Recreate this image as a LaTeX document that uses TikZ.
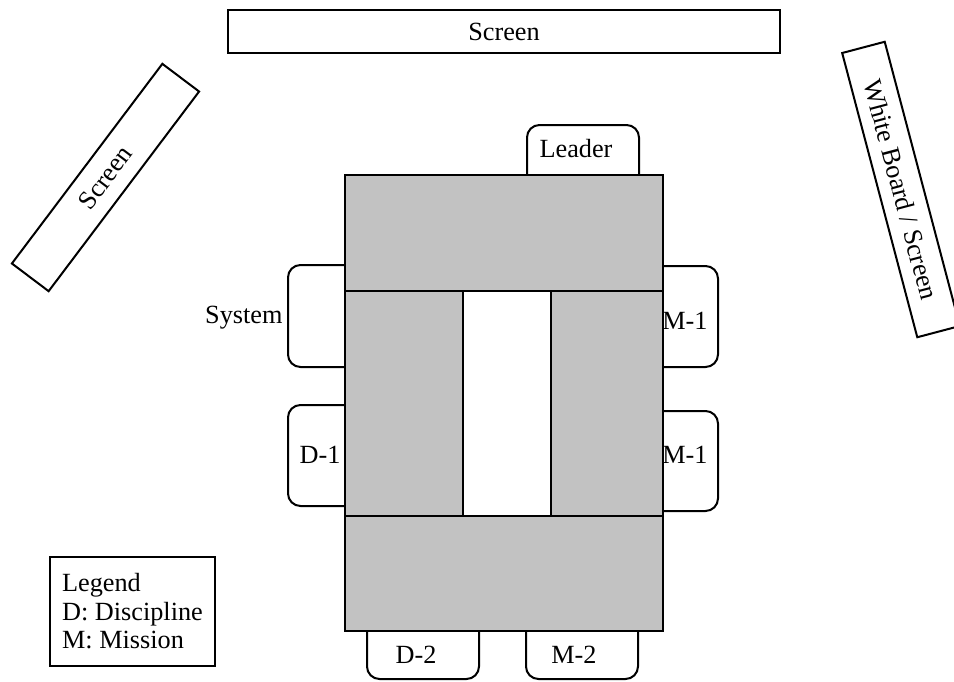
\documentclass[tikz,border=0pt]{standalone}
\usepackage{fontspec}
\setmainfont{Liberation Serif}
\usepackage{tikz}
\usetikzlibrary{positioning}

\tikzset{
  chair/.style={draw,line width=0.8pt,rounded corners=5pt,fill=white},
  tbl/.style={draw,line width=0.8pt,fill=black!24},
  screenbox/.style={draw,line width=0.8pt,fill=white,inner sep=0pt},
  lbl/.style={inner sep=1pt}
}

\begin{document}
\begin{tikzpicture}[x=0.4pt,y=-0.4pt,font=\fontsize{10.5}{11.4}\selectfont]
\useasboundingbox[fill=white](0,0)rectangle(954,681);
% screens
\node[screenbox,minimum width=221pt,minimum height=17.2pt](topscreen)at(504,31.5){Screen};
\node[screenbox,rotate=53,minimum width=100pt,minimum height=18.4pt](leftscreen)at(105.5,177.5){Screen};
\node[screenbox,rotate=-75.2,minimum width=117.6pt,minimum height=17.6pt](board)at(901,189.5){White Board / Screen};
% chairs
\draw[chair](527,125)rectangle(639,200);
\draw[chair](288,265)rectangle(370,367);
\draw[chair](288,405)rectangle(370,506);
\draw[chair](640,266)rectangle(718,367);
\draw[chair](640,411)rectangle(718,511);
\draw[chair](367,600)rectangle(479,679);
\draw[chair](526,600)rectangle(638,679);
% table
\draw[tbl](345,175)rectangle(663,291);
\draw[tbl](345,291)rectangle(463,516);
\draw[tbl](551,291)rectangle(663,516);
\draw[tbl](345,516)rectangle(663,631);
% seat labels
\coordinate(sys)at(288,318);
\node[lbl](leader)at(576,149){Leader};
\node[lbl,left=1pt of sys](system){System};
\node[lbl](d1)at(320,455){D-1};
\node[lbl](m1a)at(685,321){M-1};
\node[lbl](m1b)at(685,455){M-1};
\node[lbl](d2)at(416,655){D-2};
\node[lbl](m2)at(574,655){M-2};
% legend
\node[draw,line width=0.8pt,align=left,minimum width=66pt,minimum height=43.6pt](legend)at(132.5,611.5){Legend\\D: Discipline\\M: Mission};
\end{tikzpicture}
\end{document}
